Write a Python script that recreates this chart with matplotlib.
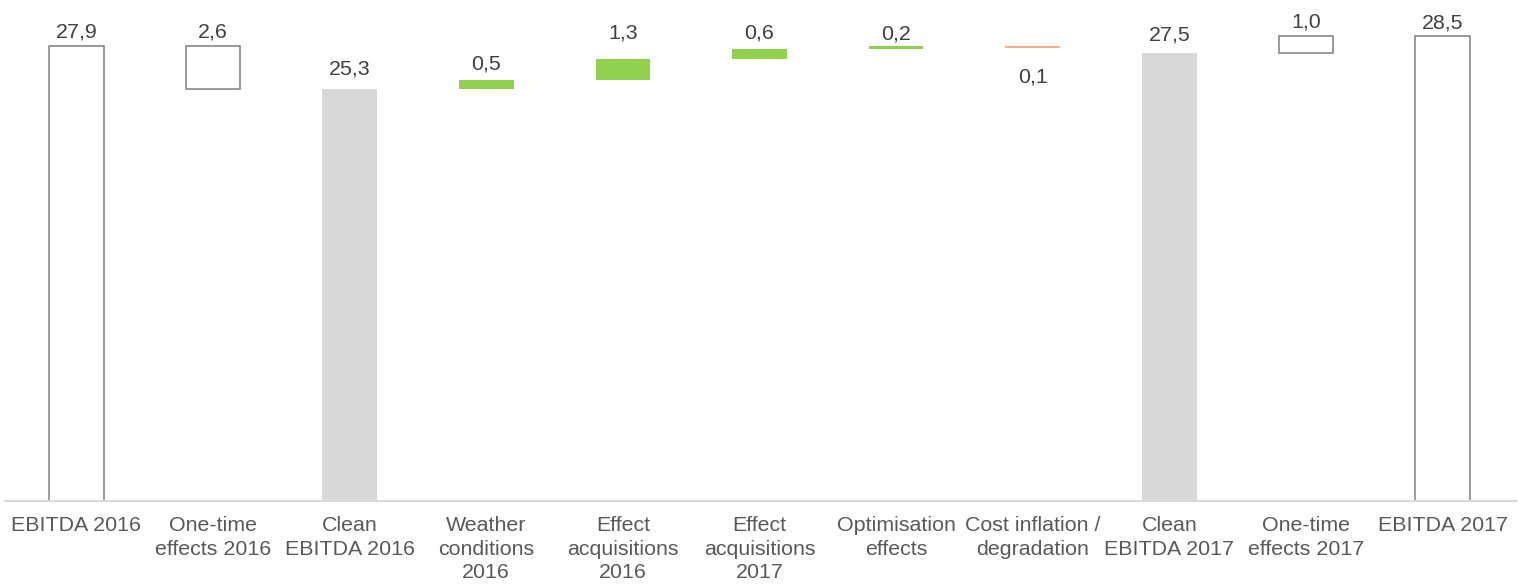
import matplotlib
matplotlib.use("Agg")
import matplotlib.pyplot as plt
from matplotlib.transforms import offset_copy

plt.rcParams["font.family"] = ["Liberation Sans", "DejaVu Sans"]

# EBITDA bridge 2016 -> 2017 (EUR m)
categories = [
    "EBITDA 2016", "One-time\neffects 2016", "Clean\nEBITDA 2016",
    "Weather\nconditions\n2016", "Effect\nacquisitions\n2016",
    "Effect\nacquisitions\n2017", "Optimisation\neffects",
    "Cost inflation /\ndegradation", "Clean\nEBITDA 2017",
    "One-time\neffects 2017", "EBITDA 2017",
]
values = [27.9, -2.6, 25.3, 0.5, 1.3, 0.6, 0.2, -0.1, 27.5, 1.0, 28.5]
is_total = [True, False, True, False, False, False, False, False, True, False, True]
bar_style = ["outline", "outline", "clean", "up", "up", "up", "up", "down",
             "clean", "outline", "outline"]

# label offset from the bar end, in pixels
label_gap = [9, 9, 14, 10.5, 21, 11, 7, 20, 12.7, 9, 8]

OUTLINE = "#7f7f7f"
CLEAN = "#d9d9d9"
UP = "#92d050"
DOWN = "#f4b183"
VALUE_TXT = "#404040"
CAT_TXT = "#595959"
FS = 15.4

W, H, DPI = 1518, 585, 100
fig = plt.figure(figsize=(W / DPI, H / DPI), dpi=DPI)
ax = fig.add_axes([5 / W, 84 / H, (1516 - 5) / W, 489 / H])

# running totals for the waterfall
bottoms, heights = [], []
running = 0.0
for v, tot in zip(values, is_total):
    if tot:
        bottoms.append(0.0)
        heights.append(v)
        running = v
    else:
        bottoms.append(running + min(v, 0))
        heights.append(abs(v))
        running += v

x = list(range(len(categories)))
bw = 0.40
for i in x:
    st = bar_style[i]
    if st == "outline":
        ax.bar(i, heights[i], bw, bottom=bottoms[i], facecolor="white",
               edgecolor=OUTLINE, linewidth=1.1, zorder=3)
    else:
        col = {"clean": CLEAN, "up": UP, "down": DOWN}[st]
        ax.bar(i, heights[i], bw, bottom=bottoms[i], color=col,
               linewidth=0, zorder=3)

    txt = f"{abs(values[i]):.1f}".replace(".", ",")
    gap_pt = label_gap[i] * 72 / DPI
    if values[i] < 0 and st == "down":
        tr = offset_copy(ax.transData, fig=fig, y=-gap_pt, units="points")
        ax.text(i, bottoms[i], txt, transform=tr, ha="center", va="top",
                fontsize=FS, color=VALUE_TXT)
    else:
        tr = offset_copy(ax.transData, fig=fig, y=gap_pt, units="points")
        ax.text(i, bottoms[i] + heights[i], txt, transform=tr, ha="center",
                va="baseline", fontsize=FS, color=VALUE_TXT)

ax.set_xlim(-0.523, 10.538)
ax.set_ylim(0, 30)
ax.set_xticks(x)
ax.set_xticklabels(categories, fontsize=FS, color=CAT_TXT, linespacing=1.3)
ax.tick_params(axis="x", length=0, pad=11)
ax.set_yticks([])
for s in ("top", "right", "left"):
    ax.spines[s].set_visible(False)
ax.spines["bottom"].set_color(CLEAN)
ax.spines["bottom"].set_linewidth(1.5)
ax.spines["bottom"].set_zorder(4)

fig.savefig("out.png", dpi=DPI)
